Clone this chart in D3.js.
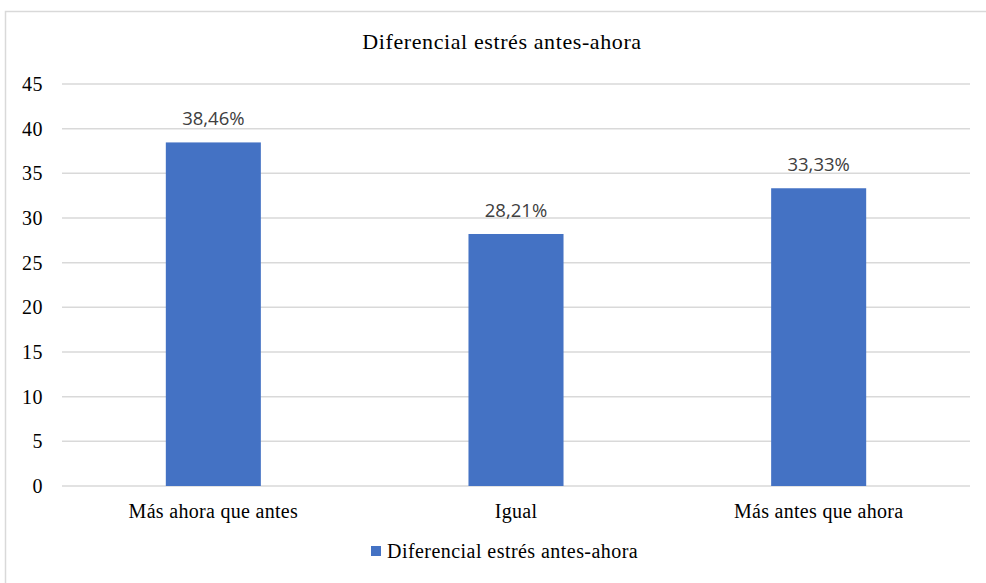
<!DOCTYPE html>
<html><head><meta charset="utf-8">
<script src="https://cdn.jsdelivr.net/npm/d3@7"></script>
<style>body{margin:0;background:#fff;}
.serif{font-family:"Liberation Serif","DejaVu Serif","Times New Roman",Times,serif;}
.sans{font-family:"Open Sans","Noto Sans","Liberation Sans",sans-serif;}
</style>
</head><body><svg id="c" width="986" height="583"></svg>
<script>
const title = "Diferencial estrés antes-ahora";
const categories = ["Más ahora que antes", "Igual", "Más antes que ahora"];
const values = [38.46, 28.21, 33.33];
const valueLabels = ["38,46%", "28,21%", "33,33%"];
const yTicks = [0, 5, 10, 15, 20, 25, 30, 35, 40, 45];
const seriesName = "Diferencial estrés antes-ahora";

const svg = d3.select("#c");

svg.append("rect").attr("x", 5.5).attr("y", 11.5).attr("width", 990).attr("height", 600)
  .attr("fill", "#fff").attr("stroke", "#d9d9d9").attr("stroke-width", 1.5);

const x = d3.scaleBand().domain(categories).range([62, 970]).paddingInner(0.686).paddingOuter(0.343);
const y = d3.scaleLinear().domain([0, 45]).range([486, 84]);

svg.append("text").attr("class", "serif").attr("x", 502).attr("y", 49).attr("text-anchor", "middle")
  .attr("font-size", 22).attr("letter-spacing", 0.6).attr("fill", "#000").text(title);

const g = svg.append("g");
g.selectAll("line.grid").data(yTicks).join("line").attr("class", "grid")
  .attr("x1", 62).attr("x2", 970).attr("y1", d => y(d)).attr("y2", d => y(d))
  .attr("stroke", "#d9d9d9").attr("stroke-width", 1.5);

g.selectAll("text.yt").data(yTicks).join("text").attr("class", "yt serif")
  .attr("x", 43).attr("y", d => y(d)).attr("dy", "0.35em").attr("text-anchor", "end")
  .attr("font-size", 20).attr("letter-spacing", 0.5).attr("fill", "#000").text(d => d);

g.selectAll("rect.bar").data(values).join("rect").attr("class", "bar")
  .attr("x", (d, i) => x(categories[i])).attr("width", x.bandwidth())
  .attr("y", d => y(d)).attr("height", d => y(0) - y(d)).attr("fill", "#4472c4");

g.selectAll("text.vl").data(values).join("text").attr("class", "vl sans")
  .attr("x", (d, i) => x(categories[i]) + x.bandwidth() / 2).attr("y", d => y(d) - 17)
  .attr("text-anchor", "middle").attr("font-size", 18.5).attr("fill", "#404040")
  .text((d, i) => valueLabels[i]);

g.selectAll("text.xl").data(categories).join("text").attr("class", "xl serif")
  .attr("x", d => x(d) + x.bandwidth() / 2).attr("y", 518).attr("text-anchor", "middle")
  .attr("font-size", 20).attr("letter-spacing", 0.3).attr("fill", "#000").text(d => d);

svg.append("rect").attr("x", 371).attr("y", 546).attr("width", 10).attr("height", 10).attr("fill", "#4472c4");
svg.append("text").attr("class", "serif").attr("x", 387).attr("y", 558).attr("font-size", 20)
  .attr("letter-spacing", 0.45).attr("fill", "#000").text(seriesName);
</script></body></html>
